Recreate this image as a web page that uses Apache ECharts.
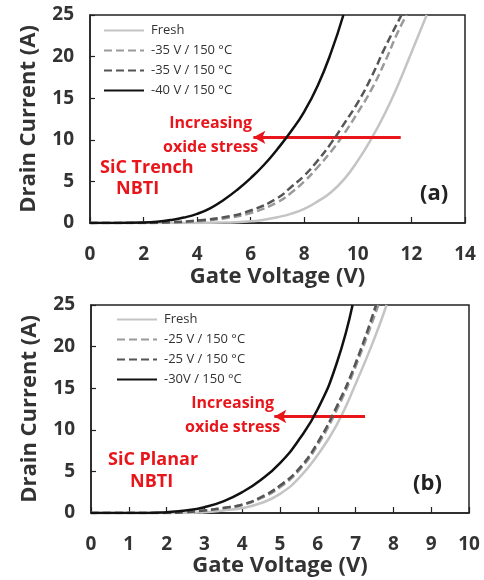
<!DOCTYPE html>
<html>
<head>
<meta charset="utf-8">
<script src="https://cdn.jsdelivr.net/npm/echarts@6/dist/echarts.min.js"></script>
<style>
  html, body { margin: 0; padding: 0; background: #fff; }
  #chart { width: 484px; height: 580px; }
</style>
</head>
<body>
<div id="chart"></div>
<script>
// (a) SiC Trench
var trenchNames = ['Fresh', '-35 V / 150 \u00B0C', '-35 V / 150 \u00B0C ', '-40 V / 150 \u00B0C'];
var trenchFreshV = [0, 4, 5, 6, 6.5, 7, 7.5, 8, 8.5, 9, 9.5, 10, 10.5, 11, 11.5, 12, 12.57];
var trenchFreshI = [0, 0, 0.05, 0.2, 0.4, 0.7, 1.1, 1.7, 2.6, 3.7, 5.3, 7.5, 10.1, 13.1, 16.6, 20.5, 25];
var trench35aV = [0, 2, 3, 4, 5, 6, 7, 7.5, 8, 8.5, 9, 9.5, 10, 10.5, 11, 11.5, 11.82];
var trench35aI = [0, 0, 0.05, 0.2, 0.55, 1.2, 2.5, 3.6, 5, 6.7, 8.6, 10.8, 13.3, 16, 19.3, 23, 25];
var trench35bV = [0, 2, 3, 4, 5, 6, 7, 7.5, 8, 8.5, 9, 9.5, 10, 10.5, 11, 11.63];
var trench35bI = [0, 0, 0.1, 0.3, 0.7, 1.5, 3, 4.3, 5.7, 7.5, 9.6, 12, 14.5, 17.5, 21, 25];
var trench40V = [0, 1, 2, 2.5, 3, 3.5, 4, 4.5, 5, 5.5, 6, 6.5, 7, 7.5, 8, 8.5, 9, 9.46];
var trench40I = [0, 0, 0.05, 0.15, 0.35, 0.65, 1.1, 1.8, 2.8, 4.0, 5.4, 7.0, 8.9, 11, 13.4, 16.5, 20.5, 25];

// (b) SiC Planar
var planarNames = ['Fresh', '-25 V / 150 \u00B0C', '-25 V / 150 \u00B0C ', '-30V / 150 \u00B0C'];
var planarFreshV = [0, 2.5, 3, 3.5, 4, 4.5, 5, 5.5, 6, 6.5, 7, 7.5, 7.82];
var planarFreshI = [0, 0, 0.1, 0.3, 0.6, 1.2, 2.3, 4.2, 7, 10.6, 15.5, 21, 25];
var planar25aV = [0, 2, 2.5, 3, 3.5, 4, 4.5, 5, 5.5, 6, 6.5, 7, 7.6];
var planar25aI = [0, 0, 0.1, 0.3, 0.6, 1.0, 1.8, 3.1, 5.1, 8.2, 12.4, 17.6, 25];
var planar25bV = [0, 2, 2.5, 3, 3.5, 4, 4.5, 5, 5.5, 6, 6.5, 7, 7.54];
var planar25bI = [0, 0, 0.1, 0.3, 0.6, 1.0, 1.9, 3.3, 5.3, 8.5, 12.8, 18, 25];
var planar30V = [0, 1.5, 2, 2.5, 3, 3.5, 4, 4.5, 5, 5.5, 6, 6.5, 6.92];
var planar30I = [0, 0, 0.1, 0.3, 0.7, 1.4, 2.5, 4, 6, 8.8, 12.5, 18, 25];

var trenchXTicks = [0, 14, 2];
var planarXTicks = [0, 10, 1];
var currentTicks = [0, 25, 5];

var trenchArrow = [[11.6, 10.3], [6.1, 10.3]];
var planarArrow = [[7.25, 11.6], [4.85, 11.6]];

function pairs(xs, ys) {
	var out = [];
	for (var i = 0; i < xs.length; i++) {
		out.push([xs[i], ys[i]]);
	}
	return out;
}

var lineStyles = [
	{color: '#c4c4c4', type: 'solid', width: 2.5},
	{color: '#9a9a9a', type: [8, 4], width: 2.5},
	{color: '#555555', type: [8, 4], width: 2.5},
	{color: '#111111', type: 'solid', width: 2.5}
];

function makeSeries(names, sets, idx) {
	var list = [];
	for (var i = 0; i < sets.length; i++) {
		list.push({
			name: names[i],
			type: 'line',
			xAxisIndex: idx,
			yAxisIndex: idx,
			smooth: true,
			symbol: 'none',
			data: pairs(sets[i][0], sets[i][1]),
			lineStyle: lineStyles[i],
			itemStyle: {color: lineStyles[i].color},
			z: 3 + i
		});
	}
	return list;
}

function arrowSeries(arrow, idx) {
	return {
		type: 'line',
		xAxisIndex: idx,
		yAxisIndex: idx,
		data: [],
		markLine: {
			silent: true,
			symbol: ['none', 'arrow'],
			symbolSize: [10, 12],
			label: {show: false},
			lineStyle: {color: '#e8151b', width: 3, type: 'solid'},
			data: [[{coord: arrow[0]}, {coord: arrow[1]}]]
		},
		z: 10
	};
}

var font = '"Open Sans", "Noto Sans", sans-serif';

function xAxisOf(ticks, idx, gap) {
	return {
		type: 'value', gridIndex: idx,
		min: ticks[0], max: ticks[1], interval: ticks[2],
		name: 'Gate Voltage (V)', nameLocation: 'middle', nameGap: gap,
		nameTextStyle: {fontFamily: font, fontSize: 22, fontWeight: 'bold', color: '#333'},
		axisLine: {show: true, lineStyle: {color: '#222', width: 1.5}},
		axisTick: {show: true, inside: true, length: 6, lineStyle: {color: '#222', width: 1.2}},
		axisLabel: {fontFamily: font, fontSize: 19, fontWeight: 'bold', color: '#333', margin: 22},
		splitLine: {show: false}
	};
}

function yAxisOf(idx) {
	return {
		type: 'value', gridIndex: idx,
		min: currentTicks[0], max: currentTicks[1], interval: currentTicks[2],
		name: 'Drain Current (A)', nameLocation: 'middle', nameGap: 50,
		nameTextStyle: {fontFamily: font, fontSize: 22, fontWeight: 'bold', color: '#333'},
		axisLine: {show: true, lineStyle: {color: '#222', width: 1.5}},
		axisTick: {show: true, inside: true, length: 5, lineStyle: {color: '#222', width: 1.2}},
		axisLabel: {fontFamily: font, fontSize: 19, fontWeight: 'bold', color: '#333', margin: 16},
		splitLine: {show: false}
	};
}

function legendOf(names, left, top) {
	return {
		data: names,
		orient: 'vertical',
		left: left, top: top,
		itemWidth: 40, itemHeight: 14, itemGap: 7,
		itemStyle: {opacity: 0},
		textStyle: {fontFamily: font, fontSize: 13, color: '#333', padding: [0, 0, 0, 2]},
		selectedMode: false
	};
}

var series = []
	.concat(makeSeries(trenchNames, [[trenchFreshV, trenchFreshI], [trench35aV, trench35aI], [trench35bV, trench35bI], [trench40V, trench40I]], 0))
	.concat(makeSeries(planarNames, [[planarFreshV, planarFreshI], [planar25aV, planar25aI], [planar25bV, planar25bI], [planar30V, planar30I]], 1));
series.push(arrowSeries(trenchArrow, 0));
series.push(arrowSeries(planarArrow, 1));

var myChart = echarts.init(document.getElementById('chart'));
var option = {
	backgroundColor: '#fff',
	animation: false,
	grid: [
		{left: 90, top: 15, width: 375, height: 208, show: true, borderColor: '#222', borderWidth: 1.5, containLabel: false},
		{left: 91, top: 305, width: 378, height: 208, show: true, borderColor: '#222', borderWidth: 1.5, containLabel: false}
	],
	legend: [legendOf(trenchNames, 98, 19), legendOf(planarNames, 111, 308)],
	xAxis: [xAxisOf(trenchXTicks, 0, 43), xAxisOf(planarXTicks, 1, 41)],
	yAxis: [yAxisOf(0), yAxisOf(1)],
	graphic: [
		{type: 'text', left: 163, top: 111, style: {text: 'Increasing\noxide stress', fill: '#e8151b', font: 'bold 16px ' + font, textAlign: 'center', lineHeight: 24}},
		{type: 'text', left: 100, top: 159, style: {text: 'SiC Trench', fill: '#e8151b', font: 'bold 18px ' + font}},
		{type: 'text', left: 116, top: 180, style: {text: 'NBTI', fill: '#e8151b', font: 'bold 18px ' + font}},
		{type: 'text', left: 420, top: 183, style: {text: '(a)', fill: '#222', font: 'bold 22px ' + font}},
		{type: 'text', left: 185, top: 391, style: {text: 'Increasing\noxide stress', fill: '#e8151b', font: 'bold 16px ' + font, textAlign: 'center', lineHeight: 24}},
		{type: 'text', left: 108, top: 451, style: {text: 'SiC Planar', fill: '#e8151b', font: 'bold 18px ' + font}},
		{type: 'text', left: 130, top: 473, style: {text: 'NBTI', fill: '#e8151b', font: 'bold 18px ' + font}},
		{type: 'text', left: 413, top: 473, style: {text: '(b)', fill: '#222', font: 'bold 22px ' + font}}
	],
	series: series
};
myChart.setOption(option);
</script>
</body>
</html>
